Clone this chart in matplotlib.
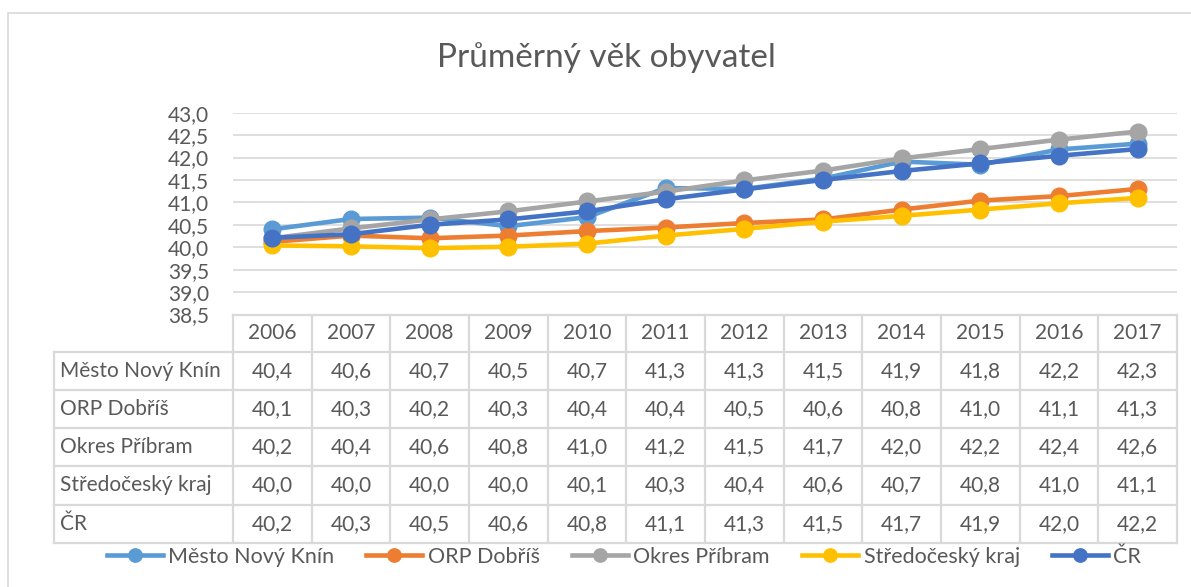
import numpy as np
import matplotlib
matplotlib.use("Agg")
import matplotlib.pyplot as plt
from matplotlib.lines import Line2D
from matplotlib.patches import Rectangle

# ---- data (table shows them rounded to 1 decimal) ----
years = ["2006", "2007", "2008", "2009", "2010", "2011",
         "2012", "2013", "2014", "2015", "2016", "2017"]
series_names = ["Město Nový Knín", "ORP Dobříš", "Okres Příbram",
                "Středočeský kraj", "ČR"]
mesto = [40.40, 40.63, 40.66, 40.47, 40.67, 41.32, 41.30, 41.53, 41.91, 41.84, 42.18, 42.31]
orp = [40.12, 40.26, 40.20, 40.26, 40.36, 40.44, 40.54, 40.62, 40.84, 41.04, 41.14, 41.30]
okres = [40.20, 40.42, 40.62, 40.80, 41.02, 41.24, 41.49, 41.71, 41.98, 42.19, 42.40, 42.58]
stredocesky = [40.04, 40.02, 39.98, 40.01, 40.08, 40.26, 40.41, 40.57, 40.70, 40.84, 40.98, 41.10]
cr = [40.21, 40.29, 40.50, 40.62, 40.80, 41.07, 41.29, 41.50, 41.70, 41.87, 42.04, 42.19]
y_ticks = [38.5, 39.0, 39.5, 40.0, 40.5, 41.0, 41.5, 42.0, 42.5, 43.0]

values = [mesto, orp, okres, stredocesky, cr]
colors = ["#5B9BD5", "#ED7D31", "#A5A5A5", "#FFC000", "#4472C4"]

TEXT = "#595959"
GRID = "#D9D9D9"
W, H = 1191, 587

plt.rcParams["font.family"] = ["Lato", "DejaVu Sans"]


def fx(px):
    return px / W


def fy(py):
    return 1 - py / H


fig = plt.figure(figsize=(W / 100, H / 100), dpi=100)
fig.patch.set_facecolor("white")

# outer chart border (right/bottom run off the picture)
fig.add_artist(Rectangle((fx(8), fy(600)), fx(1200) - fx(8), fy(13) - fy(600),
                         transform=fig.transFigure, fill=False,
                         edgecolor=GRID, linewidth=1.2))

L, R = 233, 1177
TOP, BOT = 112.7, 314.5
ax = fig.add_axes([fx(L), fy(BOT), fx(R) - fx(L), fy(TOP) - fy(BOT)])

x = np.arange(len(years))
for name, vals, c in zip(series_names, values, colors):
    ax.plot(x, vals, color=c, linewidth=3.3, marker="o", markersize=12,
            label=name, solid_joinstyle="round")

ax.set_xlim(-0.5, len(years) - 0.5)
ax.set_ylim(38.5, 43.0)
ax.set_yticks(y_ticks)
ax.set_yticklabels([f"{t:.1f}".replace(".", ",") for t in y_ticks])
ax.set_xticks([])
ax.tick_params(axis="y", length=0, pad=17, labelsize=15, labelcolor=TEXT)
ax.grid(axis="y", color=GRID, linewidth=1.2)
ax.set_axisbelow(True)
for s in ax.spines.values():
    s.set_visible(False)

fig.text(fx(606), fy(58), "Průměrný věk obyvatel",
         ha="center", va="center", fontsize=24, color=TEXT)

# ---- data table under the plot ----
colw = (R - L) / len(years)
row_edges = [314.5, 351.7, 389.9, 428.1, 466.3, 504.5, 542.7]
lab_left = 54


def hline(x0, x1, y):
    fig.add_artist(Line2D([fx(x0), fx(x1)], [fy(y), fy(y)], color=GRID,
                          linewidth=1.6, transform=fig.transFigure))


def vline(xp, y0, y1):
    fig.add_artist(Line2D([fx(xp), fx(xp)], [fy(y0), fy(y1)], color=GRID,
                          linewidth=1.6, transform=fig.transFigure))


hline(L, R, row_edges[0])
for ye in row_edges[1:]:
    hline(lab_left, R, ye)
vline(lab_left, row_edges[1], row_edges[-1])
for i in range(len(years) + 1):
    vline(L + i * colw, row_edges[0], row_edges[-1])

for i, yr in enumerate(years):
    fig.text(fx(L + (i + 0.5) * colw), fy((row_edges[0] + row_edges[1]) / 2), yr,
             ha="center", va="center", fontsize=15, color=TEXT)
for r, (name, vals) in enumerate(zip(series_names, values)):
    yc = fy((row_edges[r + 1] + row_edges[r + 2]) / 2)
    fig.text(fx(60), yc, name, ha="left", va="center", fontsize=15, color=TEXT)
    for i, v in enumerate(vals):
        fig.text(fx(L + (i + 0.5) * colw), yc, f"{v:.1f}".replace(".", ","),
                 ha="center", va="center", fontsize=15, color=TEXT)

fig.legend(loc="center", bbox_to_anchor=(fx(624), fy(557)), ncol=5,
           frameon=False, fontsize=15.5, labelcolor=TEXT, handlelength=2.6,
           handletextpad=0.25, columnspacing=1.5, markerscale=0.8)

fig.savefig("out.png", dpi=100)
